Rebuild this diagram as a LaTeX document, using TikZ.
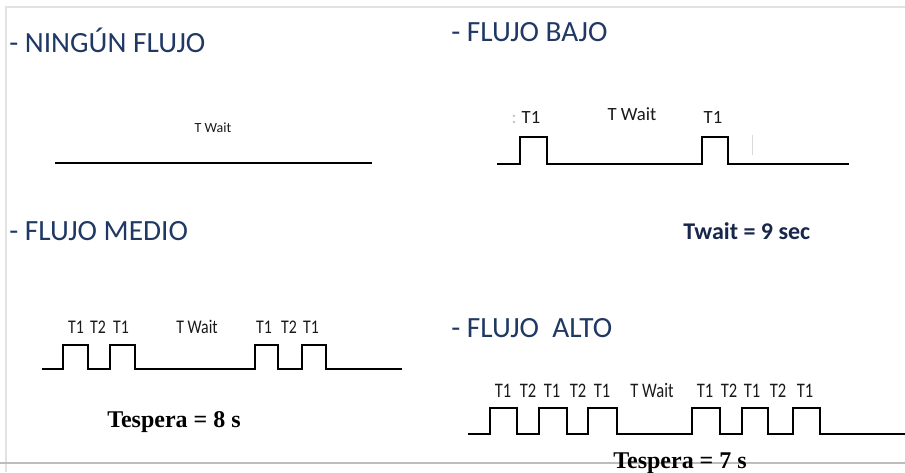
\documentclass[tikz,border=0pt]{standalone}
\usepackage{fontspec}
\setmainfont{Carlito}
\newfontfamily\serifbold{Liberation Serif}
\definecolor{titleblue}{HTML}{1F3864}
\definecolor{navy}{HTML}{17264A}
\definecolor{frame}{HTML}{E2E2E2}
\definecolor{frameb}{HTML}{BDBDBD}
\tikzset{
  title/.style={anchor=base west, inner sep=0pt, text=titleblue, font=\fontsize{22pt}{26pt}\selectfont},
  lbl/.style={anchor=base, inner sep=0pt, text=black!90},
  wave/.style={line width=2.2pt, line join=miter, black},
  bigbold/.style={anchor=base west, inner sep=0pt, font=\fontsize{18pt}{22pt}\selectfont\bfseries},
}
\begin{document}
\begin{tikzpicture}[x=0.75pt, y=-0.75pt]
\useasboundingbox (0,0) rectangle (905,472);
% frame
\draw[frame, line width=1.2pt] (5,7) -- (905,7);
\draw[frame, line width=1.2pt] (6,7) -- (6,472);
\draw[frameb, line width=1.4pt] (0,463) -- (905,463);

% NINGUN FLUJO
\node[title] (t1) at (9,52) {- NINGÚN FLUJO};
\node[lbl, font=\fontsize{10.5pt}{12pt}\selectfont] (n1) at (213,132) {T Wait};
\draw[wave] (55,163) -- (372,163);

% FLUJO BAJO
\node[title] (t2) at (451,41) {- FLUJO BAJO};
\begin{scope}[every node/.style={lbl, font=\fontsize{14pt}{16pt}\selectfont}]
\node[text=black!25] (b0) at (514,123) {:};
\node (b1) at (531,123) {T1};
\node (b2) at (632,120) {T Wait};
\node (b3) at (713,123) {T1};
\end{scope}
\draw[wave] (497,164) -| (520,137) -| (547,164) -| (702,137) -| (728,164) -- (849,164);
\draw[black!15, line width=0.6pt] (752,135) -- (752,155);
\node[bigbold, text=navy] (tw9) at (683,239) {Twait = 9 sec};

% FLUJO MEDIO
\node[title] (t3) at (9,240) {- FLUJO MEDIO};
\begin{scope}[every node/.style={lbl, font=\fontsize{14.5pt}{16pt}\selectfont, xscale=0.82, transform shape}]
\node (m1) at (76,333) {T1};
\node (m2) at (98,333) {T2};
\node (m3) at (121,333) {T1};
\node (m4) at (197,333) {T Wait};
\node (m5) at (264,333) {T1};
\node (m6) at (289,333) {T2};
\node (m7) at (311,333) {T1};
\end{scope}
\draw[wave] (42,369) -| (63,345) -| (88,369) -| (110,345) -| (135,369) -| (255,345) -| (278,369) -| (302,345) -| (326,369) -- (402,369);
\node[bigbold, font=\fontsize{18pt}{22pt}\selectfont\serifbold\bfseries] (te8) at (107,427) {Tespera = 8 s};

% FLUJO ALTO
\node[title] (t4) at (451,337) {- FLUJO\ \ ALTO};
\begin{scope}[every node/.style={lbl, font=\fontsize{15.5pt}{17pt}\selectfont, xscale=0.8, transform shape}]
\node (a1) at (503,397) {T1};
\node (a2) at (528,397) {T2};
\node (a3) at (552,397) {T1};
\node (a4) at (578,397) {T2};
\node (a5) at (602,397) {T1};
\node (a6) at (652,397) {T Wait};
\node (a7) at (705,397) {T1};
\node (a8) at (729,397) {T2};
\node (a9) at (752,397) {T1};
\node (a10) at (778,397) {T2};
\node (a11) at (805,397) {T1};
\end{scope}
\draw[wave] (468,434) -| (490,408) -| (517,434) -| (539,408) -| (567,434) -| (588,408) -| (617,434) -| (692,408) -| (720,434) -| (742,408) -| (768,434) -| (793,408) -| (820,434) -- (905,434);
\node[bigbold, font=\fontsize{18pt}{22pt}\selectfont\serifbold\bfseries] (te7) at (613,468) {Tespera = 7 s};
\end{tikzpicture}
\end{document}
